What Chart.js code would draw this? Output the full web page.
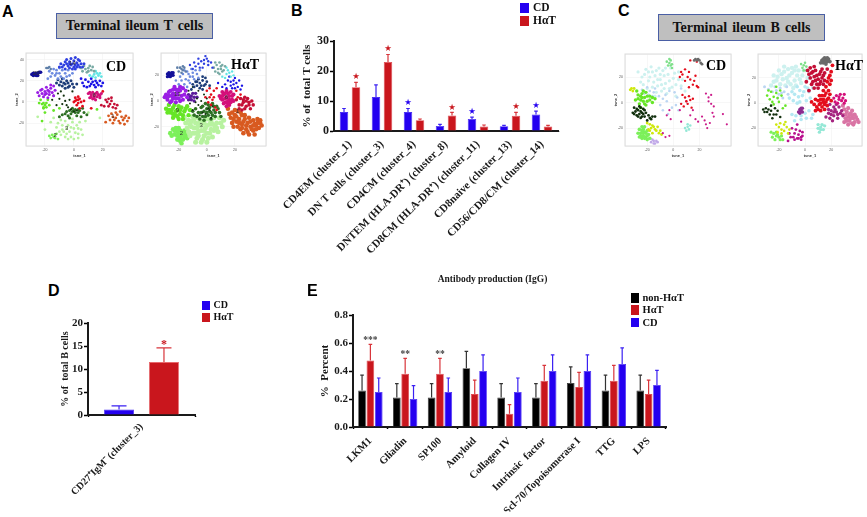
<!DOCTYPE html>
<html>
<head>
<meta charset="utf-8">
<script src="https://cdn.jsdelivr.net/npm/chart.js@4"></script>
<style>
    html, body { margin: 0; padding: 0; background: #fff; overflow: hidden; }
    #page { position: relative; width: 867px; height: 517px; font-family: "Liberation Serif", serif; font-weight: bold; }
    #page canvas { position: absolute; }
    .letter { position: absolute; font: bold 16px "Liberation Sans", sans-serif; color: #000; line-height: 16px; }
    .titleBox { position: absolute; box-sizing: border-box; background: #bfbfbf; border: 1.5px solid #4a5fa5; color: #111;
        display: flex; align-items: center; justify-content: center; font-size: 14px; word-spacing: 1.5px; }
    .tag { position: absolute; font-size: 14px; line-height: 14px; color: #000; white-space: nowrap; }
    .legendBox { position: absolute; }
    .legendText { position: absolute; white-space: nowrap; color: #111; }
</style>
</head>
<body>
<div id="page"></div>
<script>
const SERIF = '"Liberation Serif", serif';
const BLUE = '#2400f0';
const RED = '#c9161d';
const BLACK = '#000000';

// panel B
const bCategories = ['CD4EM (cluster_1)', 'DN T cells (cluster_3)', 'CD4CM (cluster_4)', 'DNTEM (HLA-DR⁺) (cluster_8)',
    'CD8CM (HLA-DR⁺) (cluster_11)', 'CD8naive (cluster_13)', 'CD56/CD8/CM (cluster_14)'];
const bCd = [6.3, 11.3, 6.3, 1.7, 4, 1.6, 5.5];
const bCdTop = [7.5, 15.4, 7.5, 2.2, 4.6, 1.9, 6.6];
const bHat = [14.6, 23, 3.6, 5.2, 1.5, 5.1, 1.5];
const bHatTop = [16.2, 25.5, 4, 6.2, 2, 6.2, 1.9];
const bStarSeries = [1, 1, 0, 1, 0, 1, 0];
const bStarValues = [18.2, 27.3, 9.3, 7.7, 6.5, 8.2, 8.3];

// panel D
const dCategories = ['CD27⁺IgM⁻ (cluster_3)'];
const dCd = [1.2];
const dCdTop = [2];
const dHat = [11.5];
const dHatTop = [14.6];
const dStarSeries = [1];
const dStarValues = [15.2];

// panel E
const eCategories = ['LKM1', 'Gliadin', 'SP100', 'Amyloid', 'Collagen IV', 'Intrinsic  factor', 'Scl-70/Topoisomerase I', 'TTG', 'LPS'];
const eNon = [0.26, 0.21, 0.21, 0.42, 0.21, 0.21, 0.315, 0.26, 0.26];
const eNonTop = [0.37, 0.31, 0.31, 0.54, 0.31, 0.31, 0.43, 0.37, 0.37];
const eHat = [0.475, 0.38, 0.38, 0.235, 0.095, 0.33, 0.285, 0.33, 0.235];
const eHatTop = [0.59, 0.49, 0.49, 0.335, 0.16, 0.44, 0.39, 0.44, 0.335];
const eCd = [0.25, 0.2, 0.25, 0.4, 0.25, 0.4, 0.4, 0.45, 0.3];
const eCdTop = [0.35, 0.295, 0.35, 0.515, 0.35, 0.515, 0.515, 0.565, 0.405];
const eStarValues = [0.615, 0.52, 0.52];
const eStarTexts = ['***', '**', '**'];

// t-SNE panels, points per cluster. panel A, CD
const aCdNavy = [[-26, 27], [-27, 26], [-25, 27], [-28, 25], [-24, 28], [-26, 25], [-29, 26], [-23, 28], [-28, 27], [-25, 25]];
const aCdSteel = [[-18, 32], [-17, 33], [-19, 32], [-16, 31]];
const aCdTop14 = [[-1, 36], [-3, 38], [0, 39], [2, 37], [-5, 36], [-7, 35], [-2, 41], [1, 42], [3, 35], [5, 36], [-4, 34], [0, 33], [-8, 33], [-6, 38], [2, 33], [6, 33], [-1, 31], [4, 39], [-3, 32], [-10, 33], [-2, 35], [1, 35], [-5, 40], [3, 40], [-9, 36], [-6, 31], [-3, 36], [4, 33], [7, 36], [1, 31]];
const aCdPeri = [[-10, 27], [-13, 25], [-8, 30], [-12, 30], [-15, 27], [-6, 27], [-9, 24], [-16, 24], [-4, 30], [-11, 22], [-3, 25], [-14, 31], [-7, 22], [-1, 27], [-12, 27], [-17, 29], [-5, 24], [-10, 32], [-18, 22]];
const aCdDeep = [[-6, 17], [-8, 15], [-4, 18], [-9, 19], [-3, 15], [-6, 13], [-1, 17], [-10, 16], [-2, 20], [-11, 21], [0, 14], [-5, 20], [-7, 18], [-4, 14], [-8, 22], [2, 17], [-12, 18]];
const aCdTeal = [[8, 31], [6, 29], [10, 32], [9, 28], [12, 30], [7, 34], [11, 34], [14, 29], [5, 32], [13, 33], [10, 29]];
const aCdCyan = [[14, 26], [16, 27], [13, 24], [17, 25], [11, 25], [15, 29], [18, 27], [19, 24], [15, 23]];
const aCdBlue = [[12, 17], [14, 16], [10, 19], [16, 18], [15, 14], [17, 16], [8, 21], [12, 22], [18, 20], [9, 14], [5, 22], [6, 18], [13, 19], [19, 15], [20, 18], [11, 15], [7, 15], [15, 20]];
const aCdPurple = [[-18, 11], [-20, 10], [-16, 13], [-22, 8], [-19, 14], [-15, 9], [-21, 5], [-17, 7], [-14, 15], [-23, 11], [-13, 11], [-18, 4], [-20, 7], [-24, 6], [-16, 16], [-22, 12], [-19, 8], [-17, 10], [-14, 6], [-25, 9]];
const aCdGreen = [[-20, -3], [-21, -5], [-19, -1], [-22, -2], [-21, -6], [-18, 2], [-23, 2], [-14, -8], [-20, -10], [-22, -18], [-10, -6], [-19, -5], [-24, -1], [-17, -3], [-21, -1], [16, -7]];
const aCdPink = [[14, 6], [12, 7], [16, 5], [15, 8], [11, 4], [17, 7], [13, 3], [18, 4], [10, 8], [15, 2], [13, 9], [19, 8], [12, 5], [16, 9], [14, 4], [18, 6], [11, 9]];
const aCdRed = [[2, 2], [1, 4], [3, -1], [4, 3], [2, -3], [5, 0], [0, 0], [3, 5], [6, -4], [12, -6], [4, -6], [1, 1], [3, 2], [7, 1], [20, 10]];
const aCdCrimson = [[22, 2], [25, -2], [27, -5], [23, 0], [28, -2], [21, -4], [24, 3], [29, -6], [19, -3], [26, 4], [24, -4], [26, 1], [30, -3]];
const aCdOrange = [[27, -14], [30, -12], [33, -14], [25, -17], [29, -10], [36, -13], [28, -17], [34, -17], [38, -15], [31, -18], [24, -13], [35, -21], [32, -9], [26, -11], [29, -15], [35, -15], [32, -20], [27, -20], [22, -19], [37, -18]];
const aCdDark = [[0, -8], [-1, -9], [1, -7], [-3, -8], [3, -10], [4, -8], [-6, -11], [2, -13], [-8, -12], [5, -14], [-2, -11], [6, -6], [-4, -13], [1, -10], [-1, -6], [3, -7], [-10, -14], [-5, -9], [7, -10], [-3, -15], [9, -12]];
const aCdBlack = [[-10, 3], [-14, 6], [-8, -2], [-11, 8], [-5, -3], [-15, 2], [-3, 2], [-4, -5], [-7, 6], [-12, -3], [-1, 10], [0, -9], [2, -8], [-2, -7], [-9, 10], [-6, 1]];
const aCdPale = [[-5, -25], [-8, -22], [-3, -28], [-10, -28], [0, -25], [-2, -33], [3, -30], [-6, -33], [-12, -24], [2, -22], [-6, -18], [5, -26], [-14, -15], [-3, -14], [-16, -19], [-20, -26], [-9, -31], [0, -35], [8, -18], [10, -10], [-1, -19], [3, -34], [-4, -22], [-7, -28], [-2, -24], [1, -29], [-5, -30], [-8, -26], [3, -25], [-11, -20], [-4, -35], [6, -31], [-1, -16], [-9, -17], [4, -19], [18, -15], [-25, -14]];
const aCdLime = [[-13, -31], [-14, -33], [-12, -30], [-16, -34], [-11, -35], [-15, -31], [-13, -34], [-17, -32]];

// panel A, HαT
const aHatNavy = [[-26, 21], [-27, 20], [-25, 22], [-28, 19], [-24, 22], [-26, 19], [-25, 20], [-27, 22], [-24, 20], [-28, 21]];
const aHatSteel = [[-18, 25], [-19, 26], [-17, 24], [-20, 23], [-16, 26], [-18, 22], [-21, 26], [-17, 27], [-15, 23]];
const aHatTop = [[-2, 29], [-4, 31], [0, 33], [-1, 35], [-6, 29], [-8, 27], [1, 28], [3, 30], [-3, 26], [-10, 25], [-6, 33], [4, 26], [-2, 32], [-5, 26], [1, 31], [-9, 30], [-12, 28]];
const aHatPeri = [[-12, 19], [-15, 17], [-10, 22], [-14, 23], [-9, 17], [-17, 21], [-7, 21], [-12, 14], [-16, 13], [-8, 24], [-18, 16], [-11, 25], [-5, 24], [-14, 11], [-13, 21], [-16, 24], [-10, 19], [-19, 19], [-6, 18], [-13, 16], [-20, 13], [-22, 16]];
const aHatDeep = [[-5, 14], [-7, 12], [-3, 16], [-8, 15], [-2, 12], [-5, 10], [0, 15], [-9, 11], [-1, 18], [-6, 17], [-11, 9], [-3, 9], [-4, 12], [-7, 15], [-1, 13], [-3, 19], [2, 12], [-10, 13]];
const aHatTeal = [[8, 25], [6, 23], [10, 27], [9, 21], [12, 24], [7, 28], [11, 28], [5, 26], [13, 27], [9, 30], [8, 22], [11, 23], [6, 30], [10, 25]];
const aHatCyan = [[14, 21], [16, 22], [13, 18], [17, 19], [11, 19], [15, 24], [18, 23], [14, 26], [19, 20]];
const aHatBlue = [[17, 15], [19, 13], [15, 16], [21, 14], [18, 10], [22, 11], [13, 13], [16, 19], [23, 16], [11, 11], [20, 18], [25, 12], [17, 12], [14, 10], [20, 10], [24, 9], [8, 14], [19, 16]];
const aHatPurple = [[-21, 5], [-24, 6], [-27, 4], [-19, 8], [-22, 9], [-26, 8], [-29, 5], [-24, 2], [-20, 2], [-16, 5], [-28, 1], [-17, 10], [-22, -1], [-26, -1], [-14, 3], [-19, 11], [-23, 11], [-21, 7], [-25, 4], [-18, 4], [-23, 4], [-27, 7], [-20, 9], [-17, 1], [-24, 9], [-15, 8], [-28, 3], [-22, 2], [-30, 3], [-19, 0], [-25, 0]];
const aHatViolet = [[-11, 4], [-13, 5], [-9, 3], [-11, 1], [-8, 6], [-13, 1], [-10, 6], [-12, 3], [-9, 0], [-7, 3]];
const aHatPink = [[14, 3], [12, 5], [16, 1], [15, 6], [11, 1], [18, 4], [13, -1], [9, 4], [19, 0], [16, -3], [11, 7], [17, 7], [14, -4], [13, 2], [16, 4], [12, -2], [10, 2], [15, 0], [18, 1], [13, 6], [14, 8], [17, -1], [11, 4], [19, 5], [15, -2]];
const aHatRed = [[5, 8], [3, 5], [1, -1], [3, -3], [5, 3], [-1, 3], [7, 10], [0, 8], [6, -5], [2, 10], [4, 1], [2, 3], [7, -7], [22, 3], [24, 5], [21, 8]];
const aHatCrimson = [[26, -1], [24, 2], [28, -4], [30, -1], [23, -3], [27, 3], [31, -6], [25, -7], [21, 1], [29, 2], [33, -3], [25, -3], [28, 0], [30, -3], [27, -6], [23, -6], [26, 1], [32, 0]];
const aHatOrange = [[22, -8], [20, -11], [25, -11], [18, -9], [23, -14], [27, -14], [17, -13], [21, -16], [25, -18], [29, -17], [33, -15], [36, -14], [31, -20], [35, -19], [38, -17], [28, -22], [33, -23], [24, -22], [30, -13], [37, -21], [15, -6], [26, -25], [19, -20], [21, -12], [24, -9], [19, -14], [23, -17], [26, -16], [28, -19], [31, -16], [34, -18], [32, -22], [36, -17], [35, -22], [29, -24], [22, -20], [16, -10], [20, -7], [27, -11], [39, -19], [34, -26], [30, -26], [25, -21], [38, -15], [33, -19], [18, -17]];
const aHatDark = [[0, -6], [-2, -8], [2, -5], [-4, -5], [3, -9], [5, -7], [-6, -9], [1, -11], [-8, -6], [6, -12], [-3, -12], [7, -4], [-5, -14], [9, -9], [-1, -2], [4, -2], [-9, -11], [0, -9], [2, -8], [-3, -4], [-1, -12], [4, -11], [-7, -12], [8, -6], [-4, -9], [1, -3], [6, -9], [-2, -15], [3, -14], [10, -12], [-10, -8], [5, -4]];
const aHatBlack = [[-12, -2], [-7, 2], [-4, 0], [-10, -7], [0, 2], [-6, -3], [-13, 8], [-2, 5], [2, -7], [-3, -9], [3, -13], [-1, -10], [1, -6], [4, -4], [-5, -11], [-8, -1], [-10, 11], [-6, 8]];
const aHatGreen = [[-21, -7], [-24, -5], [-27, -3], [-18, -5], [-22, -11], [-26, -9], [-19, -10], [-16, -8], [-24, -13], [-14, -4], [-29, -6], [-20, -14], [-13, -11], [-23, -3], [-20, -4], [-25, -7], [-22, -8], [-17, -11], [-27, -7], [-19, -7], [-24, -10], [-15, -6], [-21, -12], [-28, -9], [-17, -14], [-12, -7]];
const aHatPale = [[-4, -19], [-8, -17], [-1, -21], [-11, -20], [2, -18], [-6, -24], [-2, -27], [-10, -25], [5, -23], [-13, -15], [7, -17], [-6, -13], [1, -14], [-14, -21], [4, -28], [-7, -29], [-3, -16], [0, -25], [9, -13], [11, -20], [-10, -12], [-12, -27], [-4, -32], [5, -13], [-6, -19], [-2, -17], [-9, -21], [0, -19], [3, -22], [-4, -23], [-8, -25], [1, -29], [-1, -14], [6, -20], [-12, -18], [3, -16], [8, -24], [-6, -27], [-2, -23], [-11, -16], [-15, -17], [-9, -14], [7, -21], [-3, -30], [2, -25], [-5, -16], [12, -15], [-8, -32], [4, -18], [-16, -13], [0, -32], [-13, -24], [10, -17], [-7, -21]];
const aHatLime = [[-18, -25], [-21, -24], [-16, -23], [-19, -28], [-23, -26], [-15, -27], [-20, -21], [-17, -30], [-24, -22], [-13, -24], [-21, -30], [-18, -33], [-26, -25], [-19, -23], [-17, -26], [-21, -27], [-23, -23], [-15, -24], [-19, -31], [-22, -21], [-16, -28], [-25, -27], [-20, -26], [-14, -29]];

// panel C, CD
const cCdPale = [[-19, 17], [-14, 21], [-10, 18], [-22, 22], [-16, 24], [-8, 25], [-4, 22], [-25, 16], [-12, 13], [-6, 15], [-20, 11], [0, 19], [-2, 27], [-17, 28], [4, 24], [2, 14], [-9, 9], [-13, 8], [-27, 24], [7, 18], [-5, 7], [-11, 27], [-18, 20], [-12, 18], [-7, 21], [-15, 16], [-3, 17], [-21, 26], [-9, 14], [1, 23], [-13, 25], [-24, 20], [-1, 12], [-6, 27], [4, 18], [-19, 24], [-16, 12], [6, 13], [-10, 22], [-23, 14], [9, 9], [-3, 11], [2, 5], [-7, 11], [-14, 5]];
const cCdSky = [[-18, 9], [-22, 7], [-14, 11], [-16, 5], [-20, 12], [-11, 5], [-8, 3], [-24, 10], [-3, 9], [1, 8], [3, 4], [-5, 1], [6, 11], [-1, -4], [-8, -6], [2, -2], [-19, 6], [-15, 8], [-6, 6], [4, -6], [-4, -9], [-10, -2]];
const cCdLightgreen = [[-3, 31], [-2, 33], [-1, 30], [-4, 29], [-3, 34], [-1, 27], [-5, 32], [-2, 29]];
const cCdYellowTop = [[-32, 11], [-33, 10], [-31, 9], [-30, 11]];
const cCdGreen = [[-25, 2], [-22, 4], [-27, 6], [-20, 1], [-24, 7], [-29, 2], [-18, 5], [-26, -1], [-21, -2], [-16, 0], [-23, 9], [-28, 9], [-14, 3], [-25, -4], [-23, 1], [-27, 3], [-20, 5], [-22, -1], [-18, 2], [-25, 5], [-21, 8], [-24, 4], [-16, 4]];
const cCdBlack = [[-27, -6], [-29, -7], [-25, -4], [-30, -4], [-24, -8], [-28, -10], [-26, -9], [-22, -11], [-25, -12], [-19, -10], [-22, -6], [-31, -8], [-17, -13], [-14, -11], [-20, -14], [-26, -3], [-28, -5], [-23, -5], [-27, -11], [-24, -11], [-21, -8], [-18, -12], [-30, -9], [-25, -7], [-16, -11], [-23, -9]];
const cCdYellow = [[-17, -20], [-15, -19], [-19, -21], [-13, -22], [-18, -17], [-11, -24], [-9, -25], [-20, -16], [-16, -24], [-12, -19], [-14, -21], [-18, -22], [-16, -18], [-10, -22]];
const cCdLime = [[-23, -26], [-25, -24], [-21, -27], [-24, -28], [-22, -23], [-26, -27], [-20, -29], [-23, -21], [-19, -25], [-26, -21], [-21, -24], [-24, -19], [-23, -24], [-25, -26], [-20, -26], [-22, -28], [-24, -22], [-27, -24], [-22, -19], [-20, -22], [-18, -28]];
const cCdLilac = [[-15, -30], [-17, -31], [-13, -30], [-14, -32], [-16, -29], [-12, -31], [-15, -32]];
const cCdMagenta = [[5, -6], [10, 1], [25, 7], [27, 4], [24, -14], [31, -11], [28, -16], [13, -10], [6, -15], [19, -15], [-2, -13], [-3, -26], [-6, -27], [-8, -24], [31, -3], [38, -9], [41, -17], [26, -20], [-3, -6], [-5, -10], [15, -6], [29, -1], [22, -11], [27, 1], [25, -17], [17, -13], [29, 6], [30, -8]];
const cCdRed = [[6, 24], [9, 26], [5, 20], [11, 20], [13, 18], [16, 17], [18, 13], [19, 12], [12, 12], [10, 1], [8, -3], [13, 2], [15, 3], [7, 6], [14, -4], [18, 32], [13, 33], [11, -1], [15, 14], [9, 17], [7, 22], [12, 24], [17, 21], [12, 5], [9, 4], [6, -1]];
const cCdGray = [[17, 34], [18, 33], [19, 34], [20, 33], [21, 31], [22, 30], [16, 33]];
const cCdAqua = [[11, -19], [12, -21], [9, -20], [13, -18], [11, -17], [10, -22]];

// panel C, HαT
const cHatPale = [[-14, 20], [-18, 23], [-10, 24], [-22, 18], [-8, 18], [-15, 14], [-5, 26], [-20, 26], [-11, 15], [-2, 22], [-24, 22], [-7, 29], [-17, 19], [-3, 16], [-13, 27], [2, 20], [-26, 14], [-9, 12], [-12, 22], [-16, 25], [-6, 22], [-19, 15], [-8, 26], [-21, 21], [-4, 19], [-13, 17], [-10, 28], [-1, 26], [-24, 17], [-16, 29], [-7, 14]];
const cHatSky = [[-19, 12], [-22, 10], [-16, 9], [-25, 9], [-20, 7], [-14, 13], [-28, 11], [-17, 4], [-31, 13], [-23, 13], [-18, 8], [-13, 7], [-21, 4]];
const cHatCyan = [[-4, 10], [-8, 7], [0, 13], [-2, 6], [3, 9], [-6, 13], [4, 4], [-9, 2], [1, 2], [-4, 1], [6, 12], [-12, 4], [-7, -10], [-3, -13], [0, -8], [3, -6], [-10, -9], [5, -12], [-5, 5], [-1, 9], [2, 12], [-10, 9], [-6, 0], [-3, -10], [-8, -14], [1, -12], [6, -9]];
const cHatLightgreen = [[-1, 30], [0, 32], [-2, 28], [1, 29], [-1, 26], [-3, 31], [1, 26]];
const cHatCrimson = [[9, 22], [6, 25], [12, 25], [4, 20], [8, 18], [13, 20], [5, 15], [11, 15], [15, 24], [2, 26], [7, 29], [10, 12], [14, 15], [3, 10], [17, 27], [1, 17], [7, 21], [10, 19], [5, 24], [11, 23], [14, 22], [8, 26], [6, 17], [12, 17], [3, 23], [9, 15], [15, 18], [7, 12], [4, 28], [13, 27]];
const cHatRed = [[12, 0], [14, 3], [10, 2], [16, 1], [13, -3], [9, -3], [15, 6], [18, 4], [11, 6], [7, -1], [17, -2], [5, 1], [14, 10], [18, 10], [19, 15], [18, 20], [20, 25], [17, 17], [21, 30], [8, -6], [12, 3], [15, -1], [11, -1], [14, 1], [10, -5], [17, 3], [13, 6], [16, 8], [12, -6], [19, 7], [19, 22], [16, 13], [8, 3], [15, -5], [20, 2], [20, 18]];
const cHatPlum = [[22, -3], [20, -6], [24, -7], [19, -1], [26, -3], [22, -10], [18, -8], [28, -6], [25, -12], [16, -11], [21, -14], [29, -10], [23, -5], [20, -9], [25, -9], [18, -5], [27, -8], [22, -7], [24, -1], [19, -12]];
const cHatMagenta = [[26, 3], [24, 6], [29, 4], [27, 7], [31, 2], [23, 1], [30, 7], [25, 0], [28, 2], [26, 5], [22, 4], [30, 0]];
const cHatRose = [[32, -7], [30, -5], [35, -8], [33, -11], [29, -9], [37, -12], [34, -14], [38, -9], [31, -12], [36, -16], [40, -13], [33, -4], [38, -15], [29, -2], [34, -9], [32, -14], [36, -10], [39, -11], [31, -9], [35, -12], [37, -17], [30, -15], [33, -17], [41, -15], [36, -6]];
const cHatPurple = [[-3, -6], [-4, -5], [-2, -7], [-5, -7], [-3, -4], [-2, -4], [-4, -8]];
const cHatGreen = [[-24, 5], [-22, 8], [-27, 3], [-20, 1], [-26, 9], [-29, 6], [-18, 6], [-24, -1], [-17, -4], [-22, 13], [-15, -2], [-21, 4], [-25, 1], [-19, 10], [-28, 10]];
const cHatBlack = [[-28, -5], [-30, -4], [-26, -6], [-32, -5], [-24, -9], [-27, -9], [-21, -6], [-23, -4], [-19, -11], [-25, -12], [-29, -7], [-22, -9], [-26, -2], [-31, -7]];
const cHatYellow = [[-18, -21], [-20, -19], [-16, -22], [-21, -23], [-14, -19], [-19, -16], [-12, -21], [-16, -17], [-18, -24], [-13, -24], [-22, -17], [-15, -15]];
const cHatLime = [[-22, -26], [-24, -24], [-20, -27], [-25, -27], [-18, -26], [-22, -23], [-19, -29], [-23, -29], [-26, -23], [-21, -25], [-17, -29]];
const cHatDeepPink = [[-5, -25], [-8, -24], [-3, -27], [-6, -28], [-10, -20], [-2, -23], [-8, -29], [-4, -22], [-11, -27], [-13, -30], [-6, -17], [-5, -28], [-2, -26], [-7, -21], [-9, -27], [-3, -29], [-12, -24]];
const cHatAqua = [[12, -19], [14, -21], [10, -20], [13, -17], [11, -23], [15, -18], [12, -21], [10, -17]];
const cHatGray = [[15, 33], [16, 35], [17, 33], [14, 32], [18, 35], [13, 34], [15, 36], [17, 36], [12, 32], [16, 31], [19, 33], [14, 35]];

const tsneColors = {
    navy: '#13109a', steel: '#5e7fa8', blue14: '#2f3fe0', peri: '#6d8be0', deep: '#1c3c78', teal: '#78aaa4', cyan: '#62e4e4',
    blue: '#1a14e6', purple: '#9a1ee4', violet: '#5a1a9a', green: '#66e626', pink: '#d4107a', red: '#e40d1c', crimson: '#c40f36',
    orange: '#d85a20', dark: '#2e7024', black: '#12300e', pale: '#b8f2a0', lime: '#7cf05a', paleCyan: '#cdf1ef', sky: '#bcd6f2',
    lightCyan: '#b4e8f2', lightgreen: '#7ee08a', yellow: '#cfe80c', lilac: '#c0a8e8', magenta: '#cb1c8a', gray: '#6a6a6a',
    aqua: '#94e8d6', plum: '#a52480', rose: '#d974a4', deepPink: '#b80e8c', plumDark: '#8c2c90'
};

const page = document.getElementById('page');

function addText(cls, text, left, top, extra) {
    const el = document.createElement('div');
    el.className = cls;
    el.textContent = text;
    el.style.left = left + 'px';
    el.style.top = top + 'px';
    Object.assign(el.style, extra || {});
    page.appendChild(el);
    return el;
}

function addCanvas(rect) {
    const c = document.createElement('canvas');
    c.width = rect.right - rect.left;
    c.height = rect.bottom - rect.top;
    c.style.left = rect.left + 'px';
    c.style.top = rect.top + 'px';
    page.appendChild(c);
    return c;
}

function addLegend(x, y, step, box, labels, colors, fontSize) {
    labels.forEach((label, i) => {
        const b = document.createElement('div');
        b.className = 'legendBox';
        Object.assign(b.style, {left: x + 'px', top: (y + i * step) + 'px', width: box[0] + 'px', height: box[1] + 'px', background: colors[i]});
        page.appendChild(b);
        addText('legendText', label, x + box[0] + 4, y + i * step - 1, {fontSize: fontSize + 'px', lineHeight: (box[1] + 2) + 'px'});
    });
}

// pins the plot area to page coordinates, whatever the labels measure
function pinned(rect, area, yWidth, xHeight, topExtra) {
    return {
        padding: {
            left: area.left - rect.left - yWidth,
            right: rect.right - area.right,
            top: area.top - rect.top - (topExtra || 0),
            bottom: rect.bottom - area.bottom - xHeight
        }
    };
}

const fixY = w => s => { s.width = w; s.paddingTop = 0; s.paddingBottom = 0; };
const fixX = h => s => { s.height = h; s.paddingLeft = 0; s.paddingRight = 0; };

const errorBars = {
    id: 'errorBars',
    afterDatasetsDraw(chart) {
        const ctx = chart.ctx;
        const yScale = chart.scales.y;
        const cap = chart.options.plugins.errorBars.cap;
        chart.data.datasets.forEach((ds, d) => {
            chart.getDatasetMeta(d).data.forEach((bar, i) => {
                const top = yScale.getPixelForValue(ds.errorTop[i]);
                ctx.save();
                ctx.strokeStyle = ds.errorColor;
                ctx.lineWidth = 1.2;
                ctx.beginPath();
                ctx.moveTo(bar.x, bar.y);
                ctx.lineTo(bar.x, top);
                ctx.moveTo(bar.x - cap, top);
                ctx.lineTo(bar.x + cap, top);
                ctx.stroke();
                ctx.restore();
            });
        });
    }
};

const sigMarks = {
    id: 'sigMarks',
    afterDraw(chart) {
        const opts = chart.options.plugins.sigMarks;
        const ctx = chart.ctx;
        ctx.save();
        ctx.font = opts.font;
        ctx.textAlign = 'center';
        ctx.textBaseline = 'middle';
        opts.values.forEach((v, i) => {
            const s = opts.series[i];
            const bar = chart.getDatasetMeta(s).data[i];
            ctx.fillStyle = opts.color || chart.data.datasets[s].backgroundColor;
            ctx.fillText(opts.texts ? opts.texts[i] : opts.text, bar.x, chart.scales.y.getPixelForValue(v));
        });
        ctx.restore();
    }
};

function barChart(rect, area, cfg) {
    const font = {family: SERIF, weight: 'bold', size: cfg.tickSize};
    return new Chart(addCanvas(rect), {
        type: 'bar',
        data: {labels: cfg.labels, datasets: cfg.datasets},
        plugins: [errorBars, sigMarks],
        options: {
            responsive: false,
            animation: false,
            layout: pinned(rect, area, cfg.yWidth, cfg.xHeight, cfg.titleBlock),
            datasets: {bar: {categoryPercentage: cfg.catPct, barPercentage: cfg.barPct, borderWidth: 0.8}},
            plugins: {
                legend: {display: false},
                tooltip: {enabled: false},
                title: cfg.title || {display: false},
                errorBars: {cap: cfg.cap},
                sigMarks: cfg.marks
            },
            scales: {
                x: {
                    grid: {drawOnChartArea: false, tickLength: cfg.xTick, tickColor: '#000', tickWidth: 1.5},
                    border: {color: '#1a1a1a', width: 2},
                    ticks: {font: {family: SERIF, weight: 'bold', size: cfg.xSize}, color: '#1a1a1a', minRotation: 45, maxRotation: 45, autoSkip: false, padding: cfg.xPad},
                    afterFit: fixX(cfg.xHeight)
                },
                y: {
                    min: cfg.yMax[0],
                    max: cfg.yMax[1],
                    grid: {drawOnChartArea: false, tickLength: 4, tickColor: '#000', tickWidth: 1.5},
                    border: {color: '#1a1a1a', width: 2},
                    ticks: {font, color: '#1a1a1a', stepSize: cfg.yStep, padding: 1, callback: cfg.yFormat},
                    title: {display: true, text: cfg.yTitle, color: '#1a1a1a', padding: 0, font: {family: SERIF, weight: 'bold', size: cfg.yTitleSize}},
                    afterFit: fixY(cfg.yWidth)
                }
            }
        }
    });
}

const clusterTags = {
    id: 'clusterTags',
    afterDatasetsDraw(chart) {
        const ctx = chart.ctx;
        ctx.save();
        ctx.strokeStyle = '#dcdcdc';
        ctx.lineWidth = 1;
        const a = chart.chartArea;
        ctx.strokeRect(a.left, a.top, a.right - a.left, a.bottom - a.top);
        ctx.font = '6px "Liberation Sans", sans-serif';
        ctx.fillStyle = '#333';
        ctx.textAlign = 'center';
        ctx.textBaseline = 'middle';
        chart.data.datasets.forEach((ds, d) => {
            if (!ds.label) return;
            const p = chart.getDatasetMeta(d).data[0];
            ctx.fillText(ds.label, p.x, p.y);
        });
        ctx.restore();
    }
};

// one t-SNE plot; clusters are [points, colour, tag, radius]
function tsnePanel(rect, area, xRange, yRange, clusters) {
    const tick = {family: '"Liberation Sans", sans-serif', size: 3.5};
    const head = {family: '"Liberation Sans", sans-serif', size: 4, weight: 'bold'};
    return new Chart(addCanvas(rect), {
        type: 'scatter',
        data: {
            datasets: clusters.map(c => ({
                label: c[2],
                data: c[0].map(p => ({x: p[0], y: p[1]})),
                backgroundColor: c[1],
                pointRadius: c[3] || 1.3,
                borderWidth: 0
            }))
        },
        plugins: [clusterTags],
        options: {
            responsive: false,
            animation: false,
            layout: pinned(rect, area, 12, 12),
            plugins: {legend: {display: false}, tooltip: {enabled: false}},
            scales: {
                x: {
                    min: xRange[0], max: xRange[1],
                    grid: {color: '#f1f1f1', lineWidth: 0.6, drawTicks: false},
                    border: {display: false},
                    ticks: {font: tick, color: '#555', stepSize: 20, padding: 2, maxRotation: 0, autoSkip: false, callback: v => v % 20 === 0 ? v : ''},
                    title: {display: true, text: 'tsne_1', font: head, color: '#333', padding: 0},
                    afterFit: fixX(12)
                },
                y: {
                    min: yRange[0], max: yRange[1],
                    grid: {color: '#f1f1f1', lineWidth: 0.6, drawTicks: false},
                    border: {display: false},
                    ticks: {font: tick, color: '#555', stepSize: 20, padding: 2, autoSkip: false, callback: v => v % 20 === 0 ? v : ''},
                    title: {display: true, text: 'tsne_2', font: head, color: '#333', padding: 0},
                    afterFit: fixY(12)
                }
            }
        }
    });
}

const tc = tsneColors;

tsnePanel({left: 10, top: 48, right: 138, bottom: 158}, {left: 26, top: 53, right: 133, bottom: 146}, [-33.1, 40.9], [-41.5, 46.2], [
    [aCdNavy, tc.navy, '20', 1.8], [aCdSteel, tc.steel, '', 1.3], [aCdTop14, tc.blue14, '14', 1.5], [aCdPeri, tc.peri, '', 1.4],
    [aCdDeep, tc.deep, '', 1.5], [aCdTeal, tc.teal, '', 1.4], [aCdCyan, tc.cyan, '', 1.4], [aCdBlue, tc.blue, '', 1.4],
    [aCdPurple, tc.purple, '', 1.5], [aCdGreen, tc.green, '', 1.4], [aCdPink, tc.pink, '6', 1.6], [aCdRed, tc.red, '', 1.4],
    [aCdCrimson, tc.crimson, '', 1.4], [aCdOrange, tc.orange, '1', 1.4], [aCdBlack, tc.black, '', 1.1], [aCdDark, tc.dark, '', 1.5],
    [aCdPale, tc.pale, '3', 1.4], [aCdLime, tc.lime, '2', 1.4]
]);

tsnePanel({left: 145, top: 48, right: 272, bottom: 158}, {left: 161, top: 53, right: 266, bottom: 146}, [-32.6, 42.1], [-35, 37.4], [
    [aHatNavy, tc.navy, '', 1.7], [aHatSteel, tc.steel, '', 1.3], [aHatTop, tc.blue14, '', 1.2], [aHatPeri, tc.peri, '', 1.3],
    [aHatDeep, tc.deep, '', 1.4], [aHatTeal, tc.teal, '', 1.3], [aHatCyan, tc.cyan, '', 1.2], [aHatBlue, tc.blue, '', 1.2],
    [aHatBlack, tc.black, '', 1], [aHatPurple, tc.purple, '13', 2.1], [aHatViolet, tc.violet, '', 1.7], [aHatPink, tc.pink, '6', 2],
    [aHatRed, tc.red, '', 1.3], [aHatCrimson, tc.crimson, '', 1.8], [aHatOrange, tc.orange, '1', 2.3], [aHatDark, tc.dark, '', 1.8],
    [aHatGreen, tc.green, '9', 2.2], [aHatPale, tc.pale, '3', 2.5], [aHatLime, tc.lime, '2', 2.3]
]);

tsnePanel({left: 610, top: 48, right: 736, bottom: 158}, {left: 625, top: 54, right: 731, bottom: 146}, [-37, 44.2], [-34, 38], [
    [cCdGray, tc.gray, '', 1.4], [cCdRed, tc.red, '', 1.2], [cCdMagenta, tc.magenta, '', 1.1], [cCdBlack, tc.black, '', 1.4],
    [cCdYellow, tc.yellow, '', 1.4], [cCdLime, tc.lime, '', 1.8], [cCdGreen, tc.green, '', 1.7], [cCdLilac, tc.lilac, '', 1.3],
    [cCdYellowTop, tc.yellow, '', 1.4], [cCdAqua, tc.aqua, '', 1.3], [cCdLightgreen, tc.lightgreen, '', 1.3],
    [cCdSky, tc.sky, '', 1.3], [cCdPale, tc.paleCyan, '', 1.6]
]);

tsnePanel({left: 742, top: 48, right: 867, bottom: 158}, {left: 758, top: 54, right: 862, bottom: 146}, [-36, 43.6], [-34, 39], [
    [cHatGray, tc.gray, '', 1.9], [cHatRed, tc.red, '', 1.9], [cHatCrimson, tc.crimson, '', 1.9], [cHatMagenta, tc.pink, '', 1.6],
    [cHatPlum, tc.plum, '', 1.7], [cHatRose, tc.rose, '', 2.1], [cHatPurple, tc.plumDark, '', 1.7], [cHatBlack, tc.black, '', 1.3],
    [cHatYellow, tc.yellow, '', 1.3], [cHatLime, tc.lime, '', 1.6], [cHatDeepPink, tc.deepPink, '', 1.4], [cHatGreen, tc.green, '', 1.3],
    [cHatAqua, tc.aqua, '', 1.7], [cHatLightgreen, tc.lightgreen, '', 1.3], [cHatCyan, tc.lightCyan, '', 1.8],
    [cHatSky, tc.sky, '', 1.5], [cHatPale, tc.paleCyan, '', 2.2]
]);

barChart({left: 270, top: 32, right: 600, bottom: 268}, {left: 334, top: 41, right: 558, bottom: 131}, {
    labels: bCategories,
    datasets: [
        {data: bCd, backgroundColor: BLUE, borderColor: '#4a30f4', errorTop: bCdTop, errorColor: '#3a20f2'},
        {data: bHat, backgroundColor: RED, borderColor: '#e04a50', errorTop: bHatTop, errorColor: '#d8353b'}
    ],
    catPct: 0.75, barPct: 0.71, cap: 1.8, yWidth: 33, xHeight: 130, xTick: 0, xPad: 7,
    tickSize: 12, xSize: 11, yMax: [0, 30], yStep: 10, yTitle: '% of  total T cells', yTitleSize: 11,
    marks: {values: bStarValues, series: bStarSeries, text: '★', font: '8.5px "DejaVu Sans", sans-serif'}
});

barChart({left: 40, top: 315, right: 200, bottom: 510}, {left: 88, top: 323, right: 195, bottom: 415}, {
    labels: dCategories,
    datasets: [
        {data: dCd, backgroundColor: BLUE, borderColor: '#4a30f4', errorTop: dCdTop, errorColor: '#3a20f2'},
        {data: dHat, backgroundColor: RED, borderColor: '#e8686c', errorTop: dHatTop, errorColor: '#d8353b'}
    ],
    catPct: 0.84, barPct: 0.667, cap: 7.5, yWidth: 29, xHeight: 85, xTick: 2, xPad: 4,
    tickSize: 11, xSize: 10, yMax: [0, 20], yStep: 5, yTitle: '% of  total B cells', yTitleSize: 10,
    marks: {values: dStarValues, series: dStarSeries, text: '*', font: 'bold 12px "Liberation Serif", serif'}
});

barChart({left: 300, top: 275, right: 718, bottom: 515}, {left: 353, top: 315, right: 666, bottom: 427}, {
    labels: eCategories,
    datasets: [
        {data: eNon, backgroundColor: BLACK, borderColor: '#333', errorTop: eNonTop, errorColor: '#333'},
        {data: eHat, backgroundColor: RED, borderColor: '#e04a50', errorTop: eHatTop, errorColor: '#d8353b'},
        {data: eCd, backgroundColor: BLUE, borderColor: '#4a30f4', errorTop: eCdTop, errorColor: '#3a20f2'}
    ],
    catPct: 0.72, barPct: 0.92, cap: 1.8, yWidth: 34, xHeight: 85, xTick: 2, xPad: 6,
    tickSize: 11, xSize: 10.5, yMax: [0, 0.8], yStep: 0.2, yFormat: v => v.toFixed(1), yTitle: '%  Percent', yTitleSize: 11,
    titleBlock: 40,
    title: {display: true, text: 'Antibody production (IgG)', color: '#1a1a1a', padding: {top: 0, bottom: 30.5}, font: {family: SERIF, weight: 'bold', size: 9.5, lineHeight: 1}},
    marks: {values: eStarValues, series: [1, 1, 1], texts: eStarTexts, color: '#444', font: 'bold 9.5px "Liberation Serif", serif'}
});

addText('letter', 'A', 2, 4);
addText('letter', 'B', 291, 3);
addText('letter', 'C', 618, 3);
addText('letter', 'D', 48, 283);
addText('letter', 'E', 307, 283);

Object.assign(addText('titleBox', 'Terminal ileum T cells', 56, 13).style, {width: '157px', height: '26px'});
Object.assign(addText('titleBox', 'Terminal ileum B cells', 658, 14).style, {width: '167px', height: '27px'});

addText('tag', 'CD', 106, 60);
addText('tag', 'HαT', 231, 58);
addText('tag', 'CD', 706, 59);
addText('tag', 'HαT', 835, 59);

addLegend(520, 3, 13, [9, 9.5], ['CD', 'HαT'], [BLUE, RED], 11.5);
addLegend(202, 301, 12.3, [7.5, 8.5], ['CD', 'HαT'], [BLUE, RED], 10);
addLegend(631, 293, 12.3, [7.5, 9.5], ['non-HαT', 'HαT', 'CD'], [BLACK, RED, BLUE], 10.5);
</script>
</body>
</html>
